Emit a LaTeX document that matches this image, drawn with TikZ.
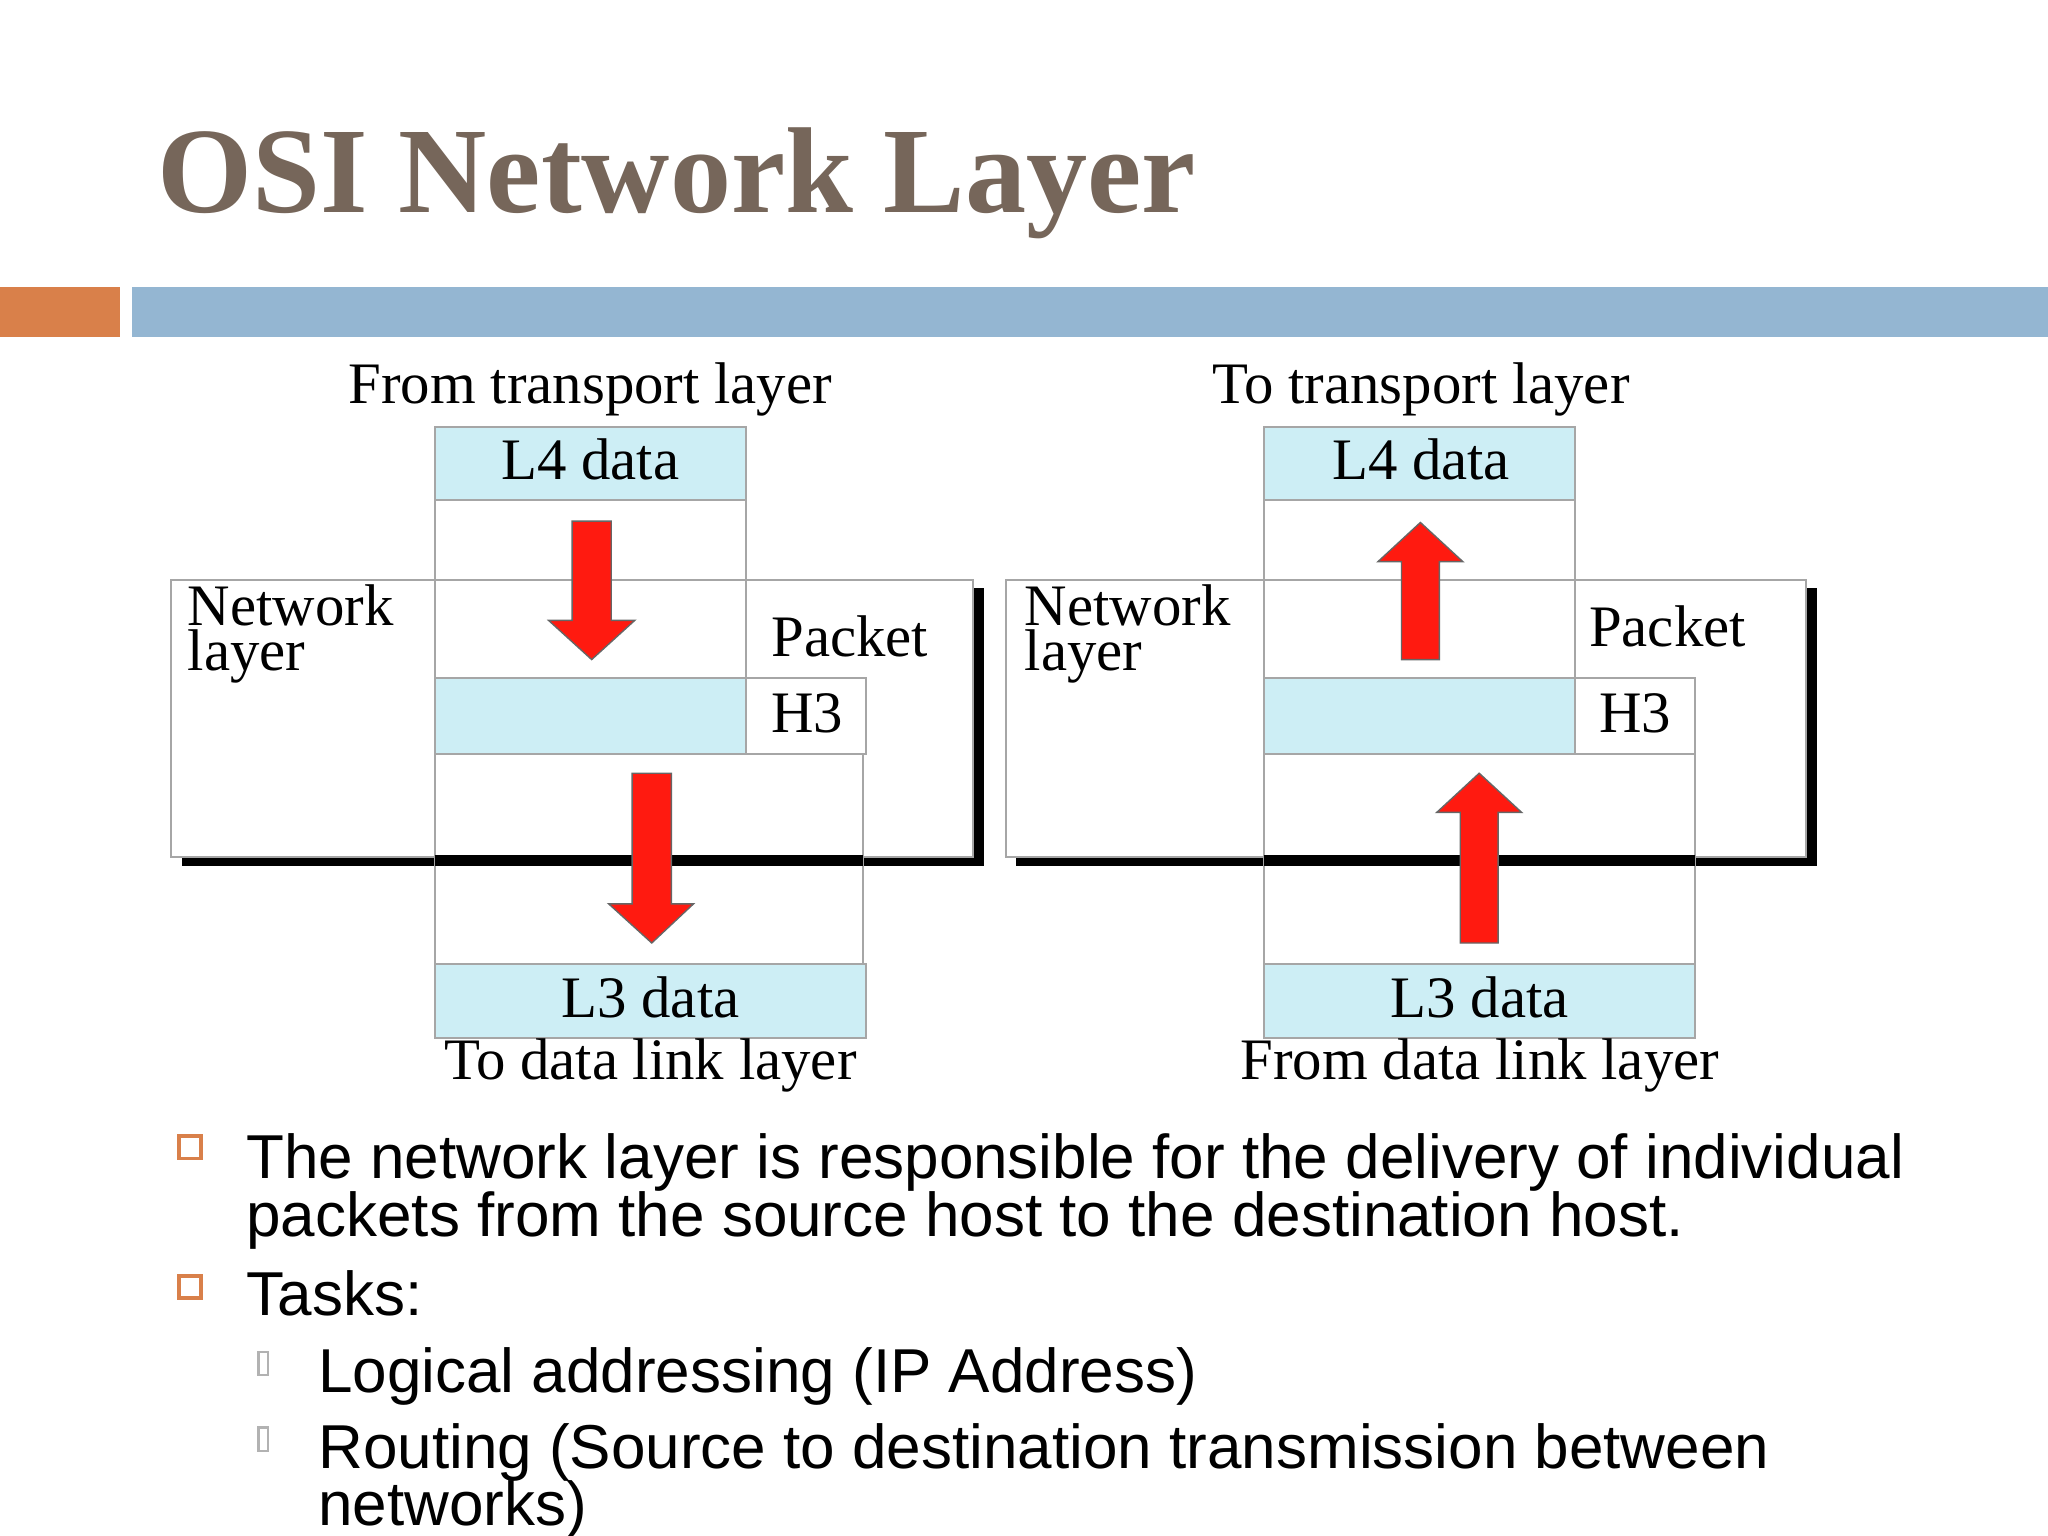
\documentclass[tikz,border=0pt]{standalone}
\usepackage{fontspec}
\setmainfont{Liberation Serif}
\newfontfamily\sansf{Liberation Sans}
\usetikzlibrary{positioning}
\definecolor{titlebrown}{HTML}{76665A}
\definecolor{barorange}{HTML}{D9804A}
\definecolor{barblue}{HTML}{94B6D2}
\definecolor{datacyan}{HTML}{CDEEF5}
\definecolor{arrowred}{HTML}{FF1A10}
\tikzset{
  datbox/.style={draw=gray!70, fill=datacyan},
  plainbox/.style={draw=gray!70, fill=white},
  lbl/.style={inner sep=0pt, font=\fontsize{12.8}{12.8}\selectfont},
  bul/.style={inner sep=0pt, anchor=base west, font=\sansf\fontsize{13.5}{13.5}\selectfont},
  redarr/.style={fill=arrowred, draw=black!60, line width=0.3pt}
}
% arrow: x shaft-left, shaft-right, head-left, head-right, tail y, head base y, tip y
\newcommand{\netarrow}[7]{%
  \path[redarr] (#1,#5) -- (#1,#6) -- (#3,#6) -- ({(#1+#2)/2},#7) -- (#4,#6) -- (#2,#6) -- (#2,#5) -- cycle;}
\begin{document}
\begin{tikzpicture}[x=0.01cm,y=-0.01cm]
\useasboundingbox (0,0) rectangle (1568,1176);
% title and bars
\node[anchor=base west, inner sep=0pt, text=titlebrown, font=\bfseries\fontsize{26.6}{26.6}\selectfont] (title) at (120,163) {OSI Network Layer};
\fill[barorange] (0,220) rectangle (92,258);
\fill[barblue] (101,220) rectangle (1568,258);
% left diagram (sender)
\draw[line width=2.5pt] (139,659) -- (749,659) -- (749,450);
\draw[plainbox] (131,444) rectangle (745,656);
\draw[plainbox] (333,383) rectangle (571,444);
\draw[plainbox] (333,444) rectangle (571,519);
\draw[plainbox] (333,577) rectangle (661,738);
\draw[line width=2.5pt] (333,659) -- (661,659);
\draw[datbox] (333,327) rectangle (571,383);
\draw[datbox] (333,519) rectangle (571,577);
\draw[plainbox] (571,519) rectangle (663,577);
\draw[datbox] (333,738) rectangle (663,795);
\netarrow{438}{468}{420}{486}{399}{475}{505}
\netarrow{484}{514}{466}{531}{592}{692}{722}
\node[lbl] (fromtl) at (452,298) {From transport layer};
\node[lbl] (lfour) at (452,352) {L4 data};
\node[lbl, anchor=base west] (netl) at (143,479) {Network};
\node[lbl, anchor=base west] (netlb) at (143,513) {layer};
\node[lbl, anchor=base west] (pack) at (590,503) {Packet};
\node[lbl] (hthree) at (618,546) {H3};
\node[lbl] (lthree) at (498,764) {L3 data};
\node[lbl] (todl) at (498,816) {To data link layer};
% right diagram (receiver)
\draw[line width=2.5pt] (778,659) -- (1387,659) -- (1387,450);
\draw[plainbox] (770,444) rectangle (1383,656);
\draw[plainbox] (968,383) rectangle (1206,444);
\draw[plainbox] (968,444) rectangle (1206,519);
\draw[plainbox] (968,577) rectangle (1298,738);
\draw[line width=2.5pt] (968,659) -- (1298,659);
\draw[datbox] (968,327) rectangle (1206,383);
\draw[datbox] (968,519) rectangle (1206,577);
\draw[plainbox] (1206,519) rectangle (1298,577);
\draw[datbox] (968,738) rectangle (1298,795);
\netarrow{1073}{1102}{1055}{1120}{505}{430}{400}
\netarrow{1118}{1147}{1100}{1165}{722}{622}{592}
\node[lbl] (totl) at (1088,298) {To transport layer};
\node[lbl] (rfour) at (1088,352) {L4 data};
\node[lbl, anchor=base west] (rnetl) at (784,479) {Network};
\node[lbl, anchor=base west] (rnetlb) at (784,513) {layer};
\node[lbl, anchor=base west] (rpack) at (1216,495) {Packet};
\node[lbl] (rhthree) at (1252,546) {H3};
\node[lbl] (rlthree) at (1133,764) {L3 data};
\node[lbl] (fromdl) at (1133,816) {From data link layer};
% bullets
\draw[barorange, line width=0.8pt] (137,870) rectangle (154,887);
\draw[barorange, line width=0.8pt] (137,977) rectangle (154,994);
\draw[gray!60, line width=0.5pt] (198,1035) rectangle (205,1053);
\draw[gray!60, line width=0.5pt] (198,1093) rectangle (205,1111);
\node[bul] (pone) at (188,902) {The network layer is responsible for the delivery of individual};
\node[bul] (ponb) at (188,947) {packets from the source host to the destination host.};
\node[bul] (ptwo) at (188,1007) {Tasks:};
\node[bul] (sone) at (243,1066) {Logical addressing (IP Address)};
\node[bul] (stwo) at (243,1124) {Routing (Source to destination transmission between};
\node[bul] (stwb) at (243,1168) {networks)};
\end{tikzpicture}
\end{document}
